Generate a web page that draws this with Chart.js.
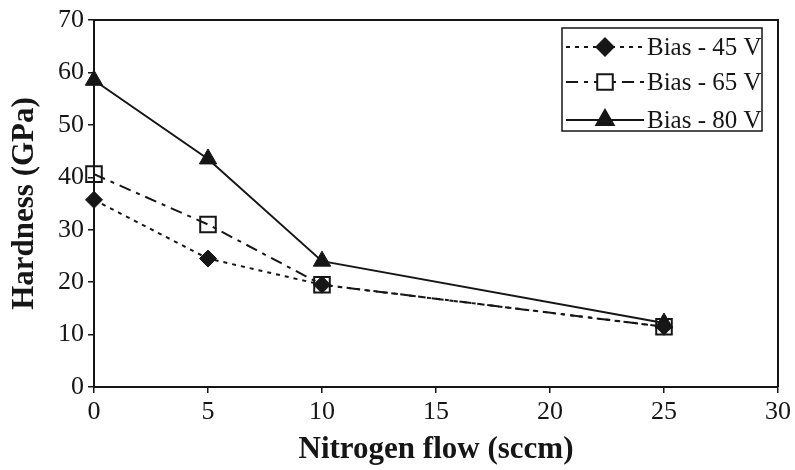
<!DOCTYPE html>
<html>
<head>
<meta charset="utf-8">
<script src="https://cdn.jsdelivr.net/npm/chart.js@4"></script>
<style>
  html, body { margin: 0; padding: 0; background: #fff; }
  #wrap { width: 795px; height: 470px; }
</style>
</head>
<body>
<div id="wrap"><canvas id="myChart" width="795" height="470"></canvas></div>
<script>
// data
const nitrogenFlow = [0, 5, 10, 25];
const bias45 = [35.7, 24.5, 19.5, 11.5];
const bias65 = [40.6, 31.0, 19.5, 11.5];
const bias80 = [58.5, 43.5, 24.0, 12.2];
const seriesLabels = ['Bias - 45 V', 'Bias - 65 V', 'Bias - 80 V'];
const xTicks = [0, 5, 10, 15, 20, 25, 30];
const yTicks = [0, 10, 20, 30, 40, 50, 60, 70];

const ink = '#161616';
const serif = "'Liberation Serif', 'Times New Roman', serif";

const toPoints = vals => vals.map((v, i) => ({ x: nitrogenFlow[i], y: v }));

// frame on top/right + legend box inside the plot
const frameAndLegend = {
  id: 'frameAndLegend',
  afterDraw(chart) {
    const { ctx, chartArea: a } = chart;
    ctx.save();
    ctx.strokeStyle = ink;
    ctx.lineWidth = 2;
    ctx.beginPath();
    ctx.moveTo(a.left, a.top);
    ctx.lineTo(a.right, a.top);
    ctx.lineTo(a.right, a.bottom);
    ctx.stroke();

    // legend
    ctx.lineWidth = 1.5;
    ctx.strokeRect(562, 28, 200, 103);
    const rows = [47, 82, 120];
    ctx.font = '25px ' + serif;
    ctx.textBaseline = 'middle';
    chart.data.datasets.forEach((ds, i) => {
      const y = rows[i];
      ctx.strokeStyle = ink;
      ctx.lineWidth = 2;
      ctx.setLineDash(ds.borderDash || []);
      ctx.beginPath();
      ctx.moveTo(566, y);
      ctx.lineTo(644, y);
      ctx.stroke();
      ctx.setLineDash([]);
      ctx.fillStyle = ds.legendFill;
      ctx.strokeStyle = ink;
      ctx.lineWidth = 2;
      Chart.helpers.drawPoint(ctx, {
        pointStyle: ds.pointStyle,
        radius: ds.pointRadius,
        rotation: 0,
        borderWidth: 2
      }, 605, y);
      ctx.fillStyle = ink;
      ctx.fillText(seriesLabels[i], 647, y + 1);
    });
    ctx.restore();
  }
};

const ctx = document.getElementById('myChart');

new Chart(ctx, {
  type: 'scatter',
  data: {
    datasets: [
      {
        label: seriesLabels[0],
        data: toPoints(bias45),
        showLine: true,
        clip: false,
        borderColor: ink,
        borderWidth: 2,
        borderDash: [4, 5],
        pointStyle: 'rectRot',
        pointRadius: 8.5,
        pointBackgroundColor: ink,
        legendFill: ink,
        pointBorderColor: ink,
        pointBorderWidth: 1
      },
      {
        label: seriesLabels[1],
        data: toPoints(bias65),
        showLine: true,
        clip: false,
        borderColor: ink,
        borderWidth: 2,
        borderDash: [12, 6, 4, 6],
        pointStyle: 'rect',
        pointRadius: 11,
        pointBackgroundColor: 'rgba(255,255,255,0)',
        legendFill: '#fff',
        pointBorderColor: ink,
        pointBorderWidth: 2
      },
      {
        label: seriesLabels[2],
        data: toPoints(bias80),
        showLine: true,
        clip: false,
        borderColor: ink,
        borderWidth: 2,
        pointStyle: 'triangle',
        pointRadius: 10,
        pointBackgroundColor: ink,
        legendFill: ink,
        pointBorderColor: ink,
        pointBorderWidth: 1
      }
    ]
  },
  options: {
    responsive: false,
    animation: false,
    layout: { padding: { top: 20, right: 17, left: 0, bottom: 0 } },
    plugins: {
      legend: { display: false },
      tooltip: { enabled: false }
    },
    scales: {
      x: {
        type: 'linear',
        min: 0,
        max: 30,
        afterFit: s => { s.height = 83; },
        afterBuildTicks: s => { s.ticks = xTicks.map(v => ({ value: v })); },
        grid: { drawOnChartArea: false, drawTicks: true, tickLength: 6, color: ink, lineWidth: 1.5 },
        border: { color: ink, width: 2 },
        ticks: { color: ink, padding: 4, font: { family: serif, size: 26 } },
        title: {
          display: true,
          text: 'Nitrogen flow (sccm)',
          color: ink,
          padding: { top: 0, bottom: 1 },
          font: { family: serif, size: 31, weight: 'bold' }
        }
      },
      y: {
        type: 'linear',
        min: 0,
        max: 70,
        afterFit: s => { s.width = 94; },
        afterBuildTicks: s => { s.ticks = yTicks.map(v => ({ value: v })); },
        grid: { drawOnChartArea: false, drawTicks: true, tickLength: 6, color: ink, lineWidth: 1.5 },
        border: { color: ink, width: 2 },
        ticks: { color: ink, padding: 4, font: { family: serif, size: 26 } },
        title: {
          display: true,
          text: 'Hardness (GPa)',
          color: ink,
          padding: { top: 6, bottom: 0 },
          font: { family: serif, size: 31, weight: 'bold' }
        }
      }
    }
  },
  plugins: [frameAndLegend]
});
</script>
</body>
</html>
